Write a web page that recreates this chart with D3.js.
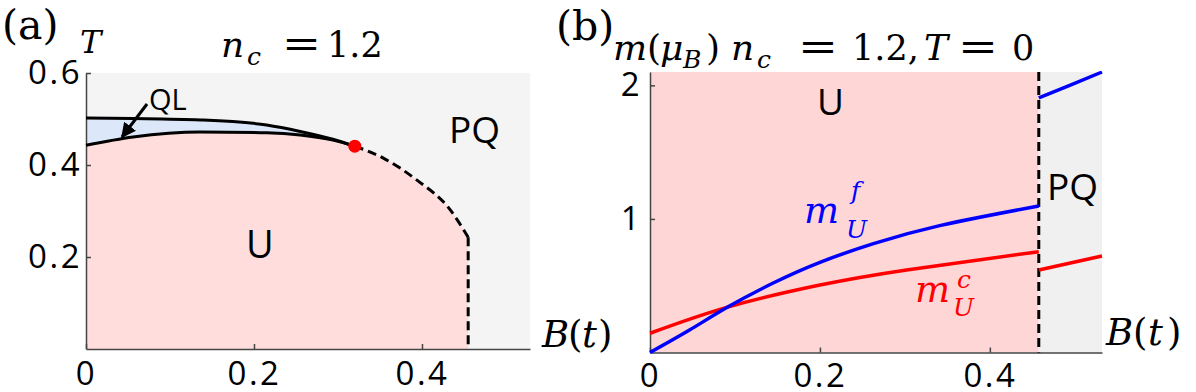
<!DOCTYPE html>
<html>
<head>
<meta charset="utf-8">
<style>
  body { margin: 0; background: #fff; }
  svg { display: block; background: #fff; }
  .tick text { font-family: "Open Sans", sans-serif; font-size: 33px; fill: #000; letter-spacing: 2.5px; }
  .axis path, .axis line { stroke: #444; stroke-width: 1.5px; }
  .serif { font-family: "DejaVu Serif", serif; }
  .sans { font-family: "Open Sans", sans-serif; }
</style>
<script src="https://cdnjs.cloudflare.com/ajax/libs/d3/7.8.5/d3.min.js"></script>
</head>
<body>
<svg width="1196" height="392"></svg>
<script>
// ---- panel (a): phase diagram T vs B, n_c = 1.2
var aXTicks = [0, 0.2, 0.4],
    aYTicks = [0.2, 0.4, 0.6];
var qlB      = [0, 0.056, 0.136, 0.215, 0.255, 0.294, 0.320],
    qlUpperT = [0.502, 0.501, 0.498, 0.487, 0.473, 0.456, 0.441],
    qlLowerT = [0.443, 0.461, 0.472, 0.470, 0.465, 0.454, 0.441];
var dashB = [0.320, 0.354, 0.394, 0.433, 0.455],
    dashT = [0.441, 0.415, 0.367, 0.304, 0.243];
var critB = 0.320, critT = 0.441;
var aMaxB = 0.5286, aMaxT = 0.6;

// ---- panel (b): magnetization at T = 0
var bXTicks = [0, 0.2, 0.4],
    bYTicks = [1, 2];
var bJumpB = 0.4576, bMaxB = 0.532, bMaxM = 2.1;
var mfB = [0, 0.047, 0.0914, 0.145, 0.2, 0.263, 0.341, 0.4576],
    mfU = [0, 0.17, 0.34, 0.52, 0.675, 0.815, 0.95, 1.097];
var mcB = [0, 0.0914, 0.2, 0.302, 0.4576],
    mcU = [0.144, 0.34, 0.505, 0.618, 0.755];
var pqB  = [0.4576, 0.494, 0.532],
    pqMf = [1.906, 2.0, 2.10];
var pqB2 = [0.4576, 0.532],
    pqMc = [0.618, 0.723];

var svg = d3.select("svg");

var defs = svg.append("defs");
defs.append("marker").attr("id", "arr")
  .attr("viewBox", "0 0 10 10").attr("refX", 9).attr("refY", 5)
  .attr("markerWidth", 15).attr("markerHeight", 15)
  .attr("markerUnits", "userSpaceOnUse").attr("orient", "auto")
  .append("path").attr("d", "M0,0 L10,5 L0,10 z").attr("fill", "#000");

// math-ish labels: pieces [text, x, baselineY, size, italic, textLength]
function mathText(g, pieces, color) {
  pieces.forEach(function(p) {
    var t = g.append("text").attr("class", "serif").attr("fill", color || "#000")
      .attr("x", p[1]).attr("y", p[2])
      .attr("font-size", p[3]).attr("font-style", p[4] ? "italic" : "normal")
      .text(p[0]);
    if (p[5]) t.attr("textLength", p[5]).attr("lengthAdjust", "spacingAndGlyphs");
  });
}

// ===================== panel (a) =====================
var xA = d3.scaleLinear().domain([0, aMaxB]).range([86, 530]),
    yA = d3.scaleLinear().domain([0, aMaxT]).range([349, 73]);
var gA = svg.append("g");

gA.append("rect").attr("x", xA(0)).attr("y", yA(aMaxT))
  .attr("width", xA(aMaxB) - xA(0)).attr("height", yA(0) - yA(aMaxT))
  .attr("fill", "#f4f4f4");

var lowerPts = d3.zip(qlB, qlLowerT),
    upperPts = d3.zip(qlB, qlUpperT),
    dashPts = d3.zip(dashB, dashT);
var boundary = lowerPts.concat(dashPts.slice(1));

gA.append("path").datum(boundary)
  .attr("fill", "#ffdddd")
  .attr("d", d3.area().x(function(d) { return xA(d[0]); })
    .y0(yA(0)).y1(function(d) { return yA(d[1]); }).curve(d3.curveMonotoneX));

gA.append("path").datum(d3.zip(qlB, qlLowerT, qlUpperT))
  .attr("fill", "#dce8fa")
  .attr("d", d3.area().x(function(d) { return xA(d[0]); })
    .y0(function(d) { return yA(d[1]); }).y1(function(d) { return yA(d[2]); })
    .curve(d3.curveMonotoneX));

gA.append("g").attr("class", "axis").attr("transform", "translate(0," + yA(0) + ")")
  .call(d3.axisBottom(xA).tickValues(aXTicks).tickFormat(d3.format(""))
    .tickSizeInner(-5).tickSizeOuter(0).tickPadding(13));
gA.append("g").attr("class", "axis").attr("transform", "translate(" + xA(0) + ",0)")
  .call(d3.axisLeft(yA).tickValues(aYTicks).tickFormat(d3.format(""))
    .tickSizeInner(-5).tickSizeOuter(0).tickPadding(4));

var lineA = d3.line().x(function(d) { return xA(d[0]); }).y(function(d) { return yA(d[1]); })
  .curve(d3.curveMonotoneX);
gA.append("path").datum(upperPts).attr("d", lineA)
  .attr("fill", "none").attr("stroke", "#000").attr("stroke-width", 3);
gA.append("path").datum(lowerPts).attr("d", lineA)
  .attr("fill", "none").attr("stroke", "#000").attr("stroke-width", 3);
gA.append("path").datum(dashPts).attr("d", lineA)
  .attr("fill", "none").attr("stroke", "#000").attr("stroke-width", 3)
  .attr("stroke-dasharray", "9,5");
gA.append("line")
  .attr("x1", xA(dashB[dashB.length - 1])).attr("x2", xA(dashB[dashB.length - 1]))
  .attr("y1", yA(dashT[dashT.length - 1])).attr("y2", yA(0))
  .attr("stroke", "#000").attr("stroke-width", 3).attr("stroke-dasharray", "9,5");
gA.append("circle").attr("cx", xA(critB)).attr("cy", yA(critT)).attr("r", 6.5).attr("fill", "#ff0000");

// arrow + labels
gA.append("line").attr("x1", 147).attr("y1", 104).attr("x2", 122).attr("y2", 137)
  .attr("stroke", "#000").attr("stroke-width", 3).attr("marker-end", "url(#arr)");
gA.append("text").attr("class", "sans").attr("x", 149).attr("y", 110).attr("font-size", 29).text("QL");
gA.append("text").attr("class", "sans").attr("x", 449).attr("y", 143).attr("font-size", 37).text("PQ");
gA.append("text").attr("class", "sans").attr("x", 246).attr("y", 258).attr("font-size", 38).text("U");

mathText(gA, [["(a)", 2, 39, 41, false]]);
mathText(gA, [["T", 80, 53, 32, true]]);
mathText(gA, [["n", 221, 57, 36, true], ["c", 247, 65, 25, true],
              ["=", 282, 57, 40, false, 39], ["1.2", 327, 57, 35, false]]);
mathText(gA, [["B", 542, 347, 37, true], ["(", 568, 347, 37, false],
              ["t", 582, 347, 37, true], [")", 598, 347, 37, false]]);

// ===================== panel (b) =====================
var xB = d3.scaleLinear().domain([0, bMaxB]).range([650, 1102]),
    yB = d3.scaleLinear().domain([0, bMaxM]).range([352.5, 72]);
var gB = svg.append("g");

gB.append("rect").attr("x", xB(0)).attr("y", yB(bMaxM))
  .attr("width", xB(bJumpB) - xB(0)).attr("height", yB(0) - yB(bMaxM))
  .attr("fill", "#ffd6d6");
gB.append("rect").attr("x", xB(bJumpB)).attr("y", yB(bMaxM))
  .attr("width", xB(bMaxB) - xB(bJumpB)).attr("height", yB(0) - yB(bMaxM))
  .attr("fill", "#f0f0f0");

gB.append("g").attr("class", "axis").attr("transform", "translate(0," + yB(0) + ")")
  .call(d3.axisBottom(xB).tickValues(bXTicks).tickFormat(d3.format(""))
    .tickSizeInner(-5).tickSizeOuter(0).tickPadding(11));
gB.append("g").attr("class", "axis").attr("transform", "translate(" + xB(0) + ",0)")
  .call(d3.axisLeft(yB).tickValues(bYTicks).tickFormat(d3.format(""))
    .tickSizeInner(-5).tickSizeOuter(0).tickPadding(8));

var lineB = d3.line().x(function(d) { return xB(d[0]); }).y(function(d) { return yB(d[1]); })
  .curve(d3.curveNatural);
gB.append("line").attr("x1", xB(bJumpB)).attr("x2", xB(bJumpB))
  .attr("y1", yB(bMaxM)).attr("y2", yB(0))
  .attr("stroke", "#000").attr("stroke-width", 3).attr("stroke-dasharray", "9,5");

[[d3.zip(mcB, mcU), "#ff0000"], [d3.zip(pqB2, pqMc), "#ff0000"],
 [d3.zip(mfB, mfU), "#0000ff"], [d3.zip(pqB, pqMf), "#0000ff"]].forEach(function(s) {
  gB.append("path").datum(s[0]).attr("d", lineB)
    .attr("fill", "none").attr("stroke", s[1]).attr("stroke-width", 3.5);
});

gB.append("text").attr("class", "sans").attr("x", 817).attr("y", 115).attr("font-size", 37).text("U");
gB.append("text").attr("class", "sans").attr("x", 1047).attr("y", 200).attr("font-size", 37).text("PQ");

mathText(gB, [["(b)", 556, 40, 41, false]]);
mathText(gB, [["m", 613, 60, 36, true], ["(", 647, 60, 36, false], ["μ", 660, 60, 36, true],
              ["B", 683, 68, 25, true], [")", 706, 60, 36, false],
              ["n", 731, 60, 36, true], ["c", 757, 68, 25, true],
              ["=", 798, 60, 40, false, 40], ["1.2,", 852, 60, 35, false],
              ["T", 924, 60, 36, true], ["=", 958, 60, 40, false, 40], ["0", 1012, 60, 35, false]]);
mathText(gB, [["m", 804, 223, 37, true], ["f", 851, 199, 25, true], ["U", 846, 238, 25, true]], "#0000ff");
mathText(gB, [["m", 915, 302, 37, true], ["c", 957, 288, 25, true], ["U", 953, 316, 25, true]], "#ff0000");
mathText(gB, [["B", 1106, 345, 37, true], ["(", 1133, 345, 37, false],
              ["t", 1148, 345, 37, true], [")", 1167, 345, 37, false]]);
</script>
</body>
</html>
